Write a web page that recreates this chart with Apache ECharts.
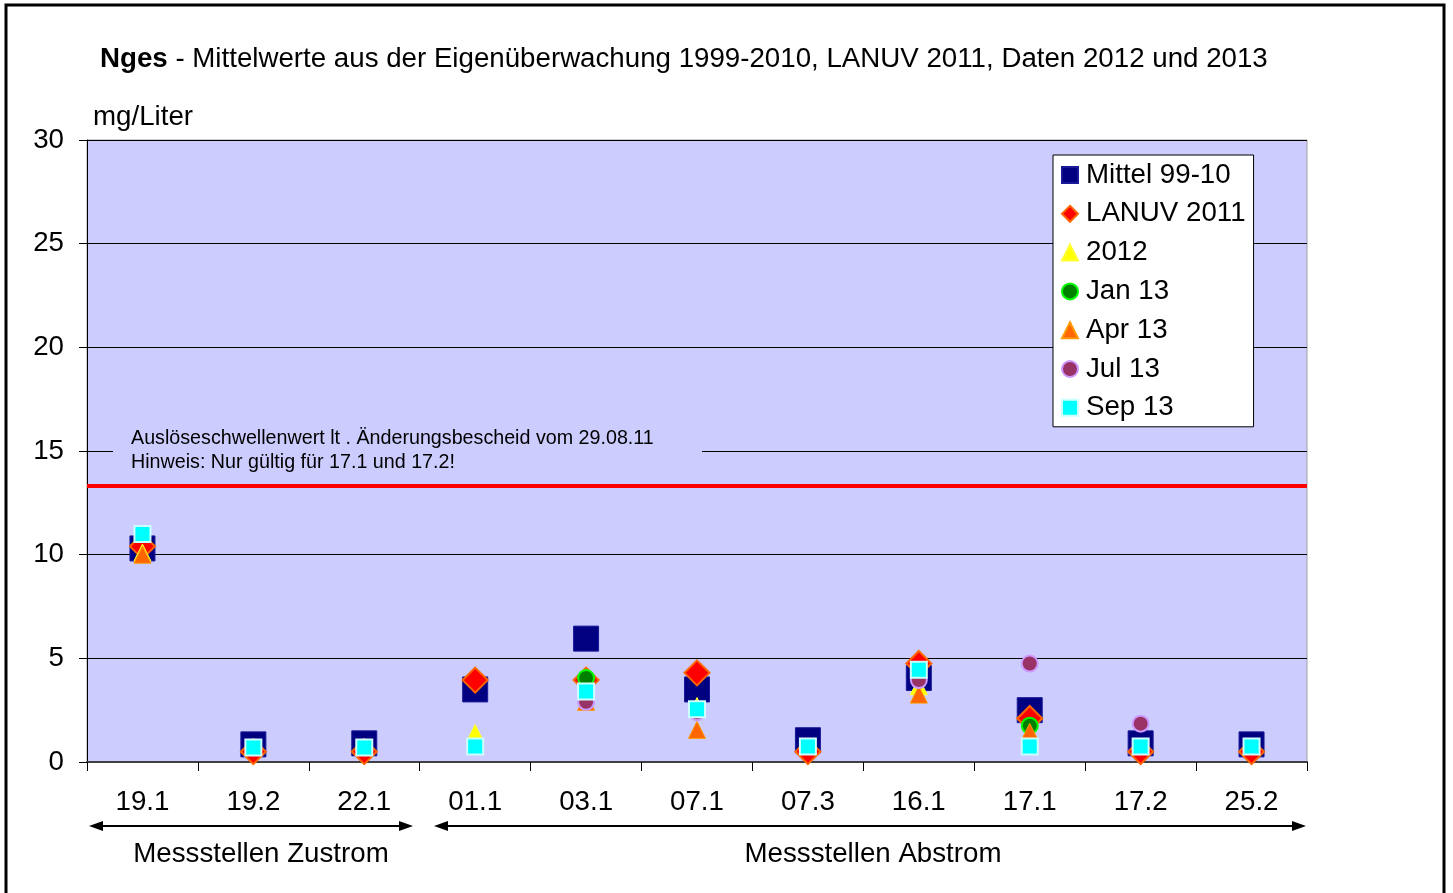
<!DOCTYPE html>
<html>
<head>
<meta charset="utf-8">
<script src="https://cdn.jsdelivr.net/npm/echarts@6/dist/echarts.min.js"></script>
<style>
  html, body { margin: 0; padding: 0; background: #fff; }
  #chart { width: 1453px; height: 893px; }
</style>
</head>
<body>
<div id="chart"></div>
<script>
// Messstellen
const categories = ['19.1', '19.2', '22.1', '01.1', '03.1', '07.1', '07.3', '16.1', '17.1', '17.2', '25.2'];
// Nges in mg/Liter
const mittel = [10.3, 0.85, 0.9, 3.5, 5.95, 3.5, 1.05, 4.05, 2.5, 0.9, 0.85];
const lanuv = [10.4, 0.5, 0.5, 3.95, 3.95, 4.3, 0.5, 4.75, 2.1, 0.5, 0.5];
const y2012 = [10.1, null, null, 1.4, null, 2.7, null, 3.65, null, null, null];
const jan13 = [null, null, null, null, 4.05, null, null, null, 1.75, null, null];
const apr13 = [10.0, null, null, null, 2.9, 1.55, null, 3.25, 1.45, null, null];
const jul13 = [null, null, null, null, 2.9, 2.4, null, 3.95, 4.75, 1.85, null];
const sep13 = [11.0, 0.7, 0.7, 0.75, 3.4, 2.55, 0.75, 4.45, 0.75, 0.75, 0.75];
const schwelle = 13.3;
const yTicks = { min: 0, max: 30, interval: 5 };

const FONT = 'Liberation Sans, Arial, sans-serif';
const FS = 27.7;

function scatter(name, data, symbol, size, color, border, bw) {
  return {
    name: name,
    type: 'scatter',
    data: data,
    symbol: symbol,
    symbolSize: size,
    itemStyle: { color: color, borderColor: border, borderWidth: bw, opacity: 1 },
    emphasis: { disabled: true }
  };
}

const series = [
  scatter('Mittel 99-10', mittel, 'rect', 25, '#000080', '#1a1a99', 1),
  scatter('LANUV 2011', lanuv, 'diamond', 25, '#ff0000', '#ff6600', 2),
  scatter('2012', y2012, 'triangle', 17, '#ffff00', '#ffff33', 1),
  scatter('Jan 13', jan13, 'circle', 16, '#008000', '#00ff00', 2),
  scatter('Apr 13', apr13, 'triangle', 17, '#ff6600', '#ff9900', 1),
  scatter('Jul 13', jul13, 'circle', 16, '#993366', '#cc99ff', 2),
  scatter('Sep 13', sep13, 'rect', 16, '#00ffff', '#ccffff', 2)
];

// Auslöseschwellenwert als markLine
series[0].markLine = {
  silent: true,
  symbol: ['none', 'none'],
  label: { show: false },
  lineStyle: { color: '#ff0000', width: 4, type: 'solid' },
  data: [{ yAxis: schwelle }]
};

const option = {
  animation: false,
  backgroundColor: '#ffffff',
  textStyle: { fontFamily: FONT },
  title: {
    text: '{b|Nges} - Mittelwerte aus der Eigenüberwachung 1999-2010, LANUV 2011, Daten 2012 und 2013',
    left: 95,
    top: 40,
    textStyle: {
      fontSize: FS,
      fontWeight: 'normal',
      color: '#000',
      fontFamily: FONT,
      rich: { b: { fontSize: FS, fontWeight: 'bold', color: '#000', fontFamily: FONT } }
    }
  },
  legend: {
    orient: 'vertical',
    left: 1053,
    top: 155,
    backgroundColor: '#ffffff',
    borderColor: '#000',
    borderWidth: 1,
    padding: [6, 8, 5, 8],
    itemWidth: 16,
    itemHeight: 16,
    itemGap: 10.8,
    textStyle: { fontSize: FS, color: '#000', fontFamily: FONT, padding: [0, 0, 0, 3] },
    data: series.map(s => ({ name: s.name, icon: s.symbol }))
  },
  grid: {
    left: 87,
    right: 146,
    top: 140,
    bottom: 131,
    show: true,
    backgroundColor: '#ccccff',
    borderColor: '#a0a0a0',
    borderWidth: 1
  },
  xAxis: {
    type: 'category',
    data: categories,
    boundaryGap: true,
    axisLine: { lineStyle: { color: '#404040', width: 2 } },
    axisTick: { show: true, length: 9, lineStyle: { color: '#000', width: 1 } },
    axisLabel: { fontSize: FS, color: '#000', margin: 26, fontFamily: FONT },
    splitLine: { show: false }
  },
  yAxis: {
    type: 'value',
    min: yTicks.min,
    max: yTicks.max,
    interval: yTicks.interval,
    axisLine: { show: true, lineStyle: { color: '#000', width: 1 } },
    axisTick: { show: true, length: 8, lineStyle: { color: '#000' } },
    axisLabel: { fontSize: FS, color: '#000', margin: 23, fontFamily: FONT },
    splitLine: { show: true, lineStyle: { color: '#000', width: 1 } }
  },
  series: series,
  graphic: [
    { type: 'rect', shape: { x: 6, y: 5, width: 1438, height: 900 }, style: { fill: 'none', stroke: '#000', lineWidth: 3 }, silent: true },
    { type: 'text', x: 93, y: 117, style: { text: 'mg/Liter', font: FS + 'px ' + FONT, fill: '#000', verticalAlign: 'middle' } },
    { type: 'rect', shape: { x: 113, y: 446, width: 589, height: 10 }, style: { fill: '#ccccff' }, z: 10 },
    {
      type: 'text', x: 131, y: 451, z: 11,
      style: {
        text: 'Auslöseschwellenwert lt . Änderungsbescheid vom 29.08.11\nHinweis: Nur gültig für 17.1 und 17.2!',
        font: '19.7px ' + FONT, fill: '#000', lineHeight: 24, verticalAlign: 'middle'
      }
    },
    // Pfeile
    { type: 'line', shape: { x1: 100, y1: 826, x2: 402, y2: 826 }, style: { stroke: '#000', lineWidth: 2 } },
    { type: 'polygon', shape: { points: [[89, 826], [103, 821], [103, 831]] }, style: { fill: '#000' } },
    { type: 'polygon', shape: { points: [[413, 826], [399, 821], [399, 831]] }, style: { fill: '#000' } },
    { type: 'line', shape: { x1: 446, y1: 826, x2: 1294, y2: 826 }, style: { stroke: '#000', lineWidth: 2 } },
    { type: 'polygon', shape: { points: [[434, 826], [448, 821], [448, 831]] }, style: { fill: '#000' } },
    { type: 'polygon', shape: { points: [[1306, 826], [1292, 821], [1292, 831]] }, style: { fill: '#000' } },
    { type: 'text', x: 261, y: 854, style: { text: 'Messstellen Zustrom', font: FS + 'px ' + FONT, fill: '#000', align: 'center', verticalAlign: 'middle' } },
    { type: 'text', x: 873, y: 854, style: { text: 'Messstellen Abstrom', font: FS + 'px ' + FONT, fill: '#000', align: 'center', verticalAlign: 'middle' } }
  ]
};

const chart = echarts.init(document.getElementById('chart'));
chart.setOption(option);
window.onresize = () => { chart.resize(); };
</script>
</body>
</html>
